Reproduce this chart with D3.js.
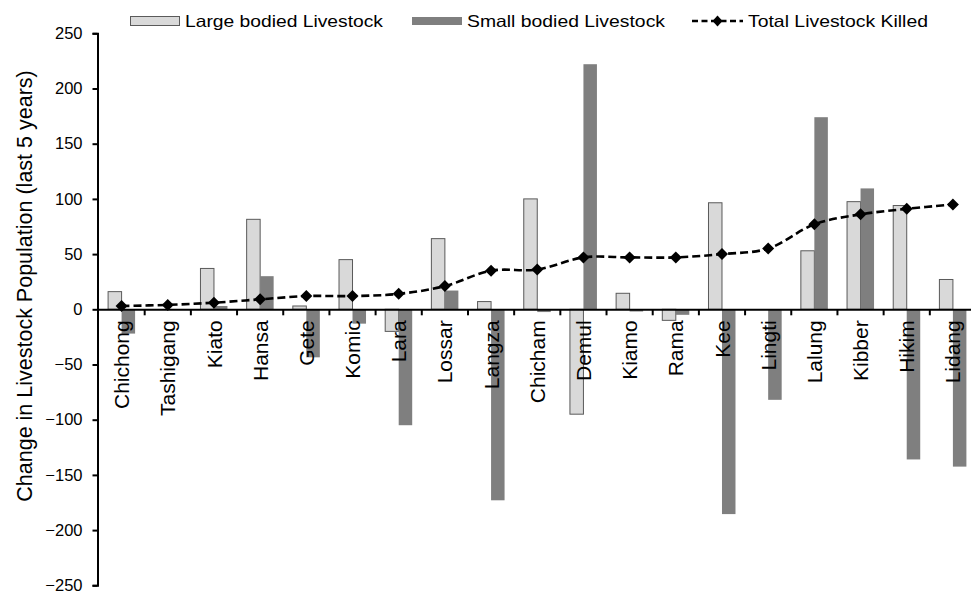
<!DOCTYPE html>
<html>
<head>
<meta charset="utf-8">
<script src="https://cdn.jsdelivr.net/npm/d3@7"></script>
<style>
  html, body { margin: 0; padding: 0; background: #fff; }
  svg { display: block; font-family: "Liberation Sans", Arial, sans-serif; }
</style>
</head>
<body>
<svg id="chart" width="971" height="594"></svg>
<script>
// Villages, ordered by total livestock killed
const categories = ["Chichong", "Tashigang", "Kiato", "Hansa", "Gete", "Komic", "Lara", "Lossar", "Langza", "Chicham",
                    "Demul", "Kiamo", "Rama", "Kee", "Lingti", "Lalung", "Kibber", "Hikim", "Lidang"];
// Change in livestock population over the last 5 years
const largeBodied = [16, 0, 37, 81.5, 3, 45, -20, 64, 7, 100, -95, 14.5, -10, 96.5, 0, 53, 97.5, 94, 27];
const smallBodied = [-22, 0, 3, 30, -43.5, -13, -105, 17, -173, -2.5, 222, -2, -5, -185.5, -82, 174, 109.5, -136, -142.5];
// Total livestock killed
const totalKilled = [3, 4, 6, 9, 12, 12, 14, 21, 35, 36, 47, 47, 47, 50, 55, 77, 86, 91, 95];
const yTicks = [-250, -200, -150, -100, -50, 0, 50, 100, 150, 200, 250];
const seriesNames = ["Large bodied Livestock", "Small bodied Livestock", "Total Livestock Killed"];

const LIGHT = "#d9d9d9", LIGHT_EDGE = "#5a5a5a", DARK = "#7f7f7f";

const svg = d3.select("#chart");

const x = d3.scaleBand().domain(categories).range([98.5, 976]).padding(0);
const y = d3.scaleLinear().domain([-250, 250]).range([585.3, 33.3]);
const barW = 13.5;
const cx = c => x(c) + x.bandwidth() / 2;

// Bars
const gBars = svg.append("g");
gBars.selectAll("rect.large").data(categories).join("rect")
  .attr("class", "large")
  .attr("x", d => cx(d) - barW)
  .attr("width", barW)
  .attr("y", (d, i) => y(Math.max(0, largeBodied[i])))
  .attr("height", (d, i) => Math.abs(y(largeBodied[i]) - y(0)))
  .attr("fill", LIGHT)
  .attr("stroke", LIGHT_EDGE)
  .attr("stroke-width", 1)
  .attr("display", (d, i) => largeBodied[i] === 0 ? "none" : null);

gBars.selectAll("rect.small").data(categories).join("rect")
  .attr("class", "small")
  .attr("x", d => cx(d))
  .attr("width", barW)
  .attr("y", (d, i) => y(Math.max(0, smallBodied[i])))
  .attr("height", (d, i) => Math.abs(y(smallBodied[i]) - y(0)))
  .attr("fill", DARK)
  .attr("display", (d, i) => smallBodied[i] === 0 ? "none" : null);

// Y axis
const yAxis = svg.append("g")
  .attr("transform", "translate(97.5,0)")
  .call(d3.axisLeft(y).tickValues(yTicks).tickSize(5).tickPadding(10).tickFormat(d3.format("d")));
yAxis.select(".domain").attr("stroke", "#000").attr("stroke-width", 2);
yAxis.selectAll(".tick line").attr("stroke", "#000").attr("stroke-width", 2);
yAxis.selectAll(".tick text").attr("font-size", 16.5).attr("fill", "#000")
  .attr("font-family", "Liberation Sans, Arial, sans-serif");

// X axis at zero with category labels rotated
const xAxis = svg.append("g")
  .attr("transform", `translate(0,${y(0)})`)
  .call(d3.axisBottom(x).tickSize(0).tickSizeOuter(0));
xAxis.select(".domain").attr("stroke", "#000").attr("stroke-width", 2);
xAxis.selectAll(".tick text")
  .attr("transform", "rotate(-90)")
  .attr("x", -11).attr("y", 0).attr("dy", "0.36em")
  .style("text-anchor", "end")
  .attr("font-size", 21).attr("fill", "#000")
  .attr("font-family", "Liberation Sans, Arial, sans-serif");

// Tick marks between villages
xAxis.selectAll("line.sep").data(d3.range(1, categories.length)).join("line")
  .attr("class", "sep")
  .attr("x1", i => x.range()[0] + i * x.step())
  .attr("x2", i => x.range()[0] + i * x.step())
  .attr("y1", 0).attr("y2", 6)
  .attr("stroke", "#000").attr("stroke-width", 2);

// Total killed: smoothed dashed line with diamond markers
const line = d3.line()
  .x((d, i) => cx(categories[i]))
  .y(d => y(d))
  .curve(d3.curveCatmullRom.alpha(0.5));
svg.append("path")
  .datum(totalKilled)
  .attr("d", line)
  .attr("fill", "none")
  .attr("stroke", "#000")
  .attr("stroke-width", 2.6)
  .attr("stroke-dasharray", "8,4");

const diamond = (w, h) => `M0,${-h}L${w},0L0,${h}L${-w},0Z`;
svg.selectAll("path.marker").data(totalKilled).join("path")
  .attr("class", "marker")
  .attr("transform", (d, i) => `translate(${cx(categories[i])},${y(d)})`)
  .attr("d", diamond(6, 6))
  .attr("fill", "#000");

// Legend
const lg = svg.append("g").attr("font-size", 16.5).attr("fill", "#000");
lg.append("rect").attr("x", 130.5).attr("y", 16.5).attr("width", 49).attr("height", 9)
  .attr("fill", LIGHT).attr("stroke", LIGHT_EDGE).attr("stroke-width", 1);
lg.append("text").attr("x", 185).attr("y", 27).text(seriesNames[0])
  .attr("textLength", 198).attr("lengthAdjust", "spacingAndGlyphs");

lg.append("rect").attr("x", 412).attr("y", 17).attr("width", 50).attr("height", 8)
  .attr("fill", DARK);
lg.append("text").attr("x", 467).attr("y", 27).text(seriesNames[1])
  .attr("textLength", 198).attr("lengthAdjust", "spacingAndGlyphs");

lg.append("line").attr("x1", 692).attr("x2", 743).attr("y1", 21).attr("y2", 21)
  .attr("stroke", "#000").attr("stroke-width", 2.6).attr("stroke-dasharray", "6,3.5");
lg.append("path").attr("transform", "translate(717.5,21)").attr("d", diamond(5, 5.5)).attr("fill", "#000");
lg.append("text").attr("x", 748).attr("y", 27).text(seriesNames[2])
  .attr("textLength", 180).attr("lengthAdjust", "spacingAndGlyphs");

// Y axis title
svg.append("text")
  .attr("transform", "translate(32,286) rotate(-90)")
  .attr("text-anchor", "middle")
  .attr("font-size", 21.5)
  .attr("fill", "#000")
  .text("Change in Livestock Population (last 5 years)");
</script>
</body>
</html>
